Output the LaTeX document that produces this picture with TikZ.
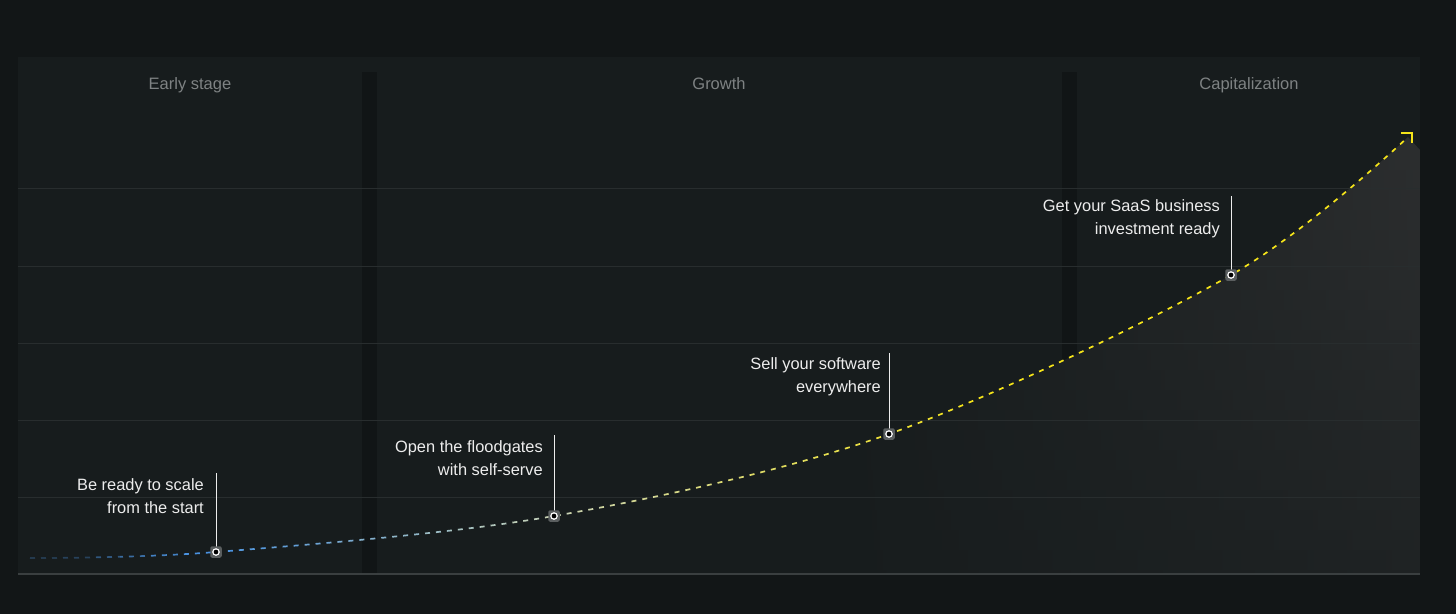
\documentclass[tikz,border=0pt]{standalone}
\usepackage{fontspec}
\setmainfont{Liberation Sans}
\definecolor{bg}{HTML}{121617}
\definecolor{panel}{HTML}{171C1D}
\definecolor{stripc}{HTML}{111516}
\definecolor{gridc}{HTML}{282D2E}
\definecolor{basec}{HTML}{3A3F40}
\definecolor{hdrc}{HTML}{7E8283}
\definecolor{lblc}{HTML}{EDEDED}
\definecolor{cblue}{HTML}{4A92E0}
\definecolor{cpale}{HTML}{C9D3B5}
\definecolor{cyel}{HTML}{F5E41A}
\definecolor{noisec}{HTML}{2C2E2F}
\definecolor{markc}{HTML}{5A5E5F}
\begin{document}
\begin{tikzpicture}[x=1pt,y=-1pt,
  curvestyle/.style={line width=1.7pt, dash pattern=on 5pt off 6pt},
  hdr/.style={font=\fontsize{16.5}{19}\selectfont, text=hdrc, inner sep=0, anchor=base},
  lab/.style={font=\fontsize{16.4}{23}\selectfont, text=lblc, align=right, inner sep=0, anchor=east},
  marker/.style={rectangle, rounded corners=2pt, minimum size=11.5pt, inner sep=0, fill=markc,
    path picture={\draw[white, line width=1.2pt, fill=black] (path picture bounding box.center) circle (3.2pt);}},
  leader/.style={draw=lblc, line width=1pt},
  gridline/.style={draw=gridc, line width=1pt}]
\useasboundingbox (0,0) rectangle (1456,614);
\fill[bg] (0,0) rectangle (1456,614);
\fill[panel] (18,57) rectangle (1420,575);
\fill[stripc] (362,72) rectangle (377,573);
\fill[stripc] (1062,72) rectangle (1077,573);
\def\curvepath{plot[smooth,tension=0.55] coordinates {(30,558) (216,552) (554,516) (889,434) (1231,275) (1408,137)}}
% shaded area under the curve (2D gradient built from bands)
\begin{scope}
  \clip \curvepath -- (1420,150) -- (1420,573) -- (30,573) -- cycle;
  \foreach \yb in {130,150,...,570}{
    \pgfmathsetmacro\vf{100-(\yb-130)/440*65}
    \colorlet{rc}{noisec!\vf!panel}
    \shade[left color=panel, right color=rc] (840,\yb) rectangle (1420,\yb+21);
  }
\end{scope}
\foreach \gy in {188,266,343,420,497}{\draw[gridline] (18,\gy) -- (1420,\gy);}
\draw[basec, line width=1.6pt] (18,574) -- (1420,574);
% gradient dashed curve
\foreach \xa in {0,30,...,1440}{
  \pgfmathsetmacro\xm{\xa+15}
  \pgfmathsetmacro\ta{min(max((\xm-220)/334*100,0),100)}
  \pgfmathsetmacro\tb{min(max((\xm-554)/420*100,0),100)}
  \pgfmathsetmacro\tc{min(max((\xm-20)/170*100,25),100)}
  \colorlet{ca}{cpale!\ta!cblue}
  \colorlet{cb}{cyel!\tb!ca}
  \colorlet{cc}{cb!\tc!panel}
  \begin{scope}
    \clip (\xa,0) rectangle (\xa+30,614);
    \draw[curvestyle, draw=cc] \curvepath;
  \end{scope}
}
\coordinate (tip) at (1412,133);
\draw[cyel, line width=2pt] ([xshift=-11pt]tip) -- (tip) -- ([yshift=-10pt]tip);
% headers
\node[hdr] (h1) at (190,89) {Early stage};
\node[hdr] (h2) at (719,89) {Growth};
\node[hdr] (h3) at (1249,89) {Capitalization};
% milestones
\coordinate (t1) at (216,473);
\coordinate (t2) at (554,435);
\coordinate (t3) at (889,353);
\coordinate (t4) at (1231,196);
\draw[leader] (216,552) -- (t1);
\draw[leader] (554,516) -- (t2);
\draw[leader] (889,434) -- (t3);
\draw[leader] (1231,275) -- (t4);
\node[marker] (m1) at (216,552) {};
\node[marker] (m2) at (554,516) {};
\node[marker] (m3) at (889,434) {};
\node[marker] (m4) at (1231,275) {};
\node[lab] (l1) at (204,496) {Be ready to scale\\from the start};
\node[lab] (l2) at (543,458) {Open the floodgates\\with self-serve};
\node[lab] (l3) at (881,377) {Sell your software\\everywhere};
\node[lab] (l4) at (1220,219) {Get your SaaS business\\investment ready};
\end{tikzpicture}
\end{document}
